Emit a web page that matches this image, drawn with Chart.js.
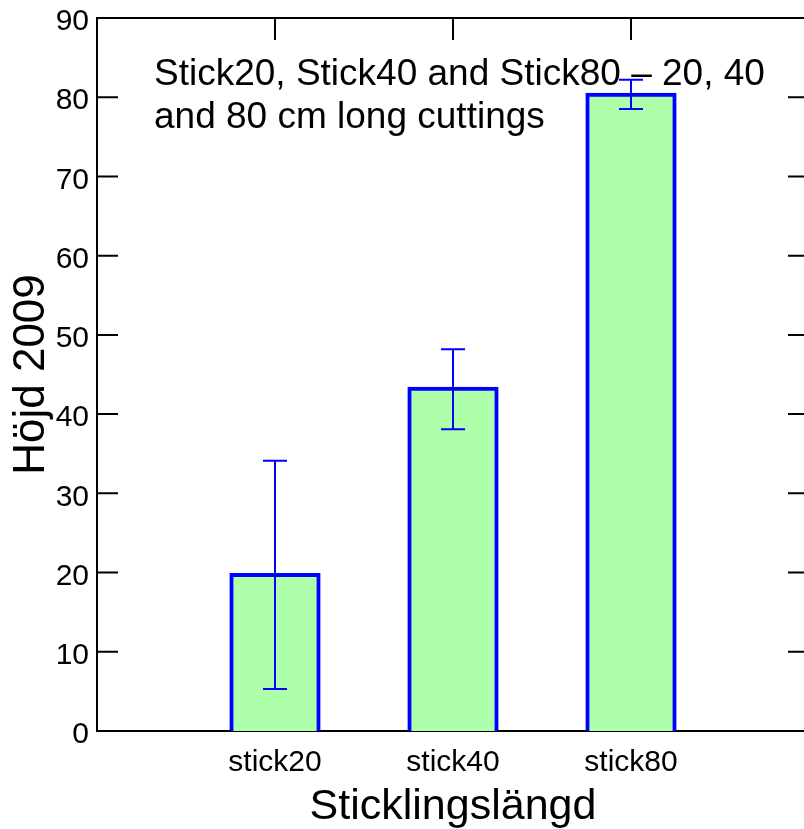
<!DOCTYPE html>
<html><head><meta charset="utf-8">
<script src="https://cdn.jsdelivr.net/npm/chart.js@4.4.0/dist/chart.umd.min.js"></script>
<style>
html,body{margin:0;padding:0;overflow:hidden;background:#fff;width:804px;height:829px}
#c{position:absolute;left:0;top:0;width:812px;height:829px}
</style>
</head><body><canvas id="c" width="812" height="829"></canvas>
<script>
const categories = ['stick20', 'stick40', 'stick80'];
const heights = [19.7, 43.2, 80.3];
const errLow = [5.3, 38.1, 78.5];
const errHigh = [34.1, 48.2, 82.2];
const yTicks = [0, 10, 20, 30, 40, 50, 60, 70, 80, 90];
const xTitle = 'Sticklingslängd';
const yTitle = 'Höjd 2009';
const noteLines = ['Stick20, Stick40 and Stick80 \u2013 20, 40', 'and 80 cm long cuttings'];

const FONT = '"Liberation Sans", Arial, sans-serif';

const framePlugin = {
  id: 'frame',
  beforeDatasetsDraw(chart) {
    const {ctx, chartArea: a, scales: {x, y}} = chart;
    ctx.save();
    ctx.strokeStyle = '#000';
    ctx.lineWidth = 2;
    ctx.beginPath();
    ctx.moveTo(a.left, a.top); ctx.lineTo(a.right, a.top); ctx.lineTo(a.right, a.bottom);
    yTicks.forEach(v => {
      const p = y.getPixelForValue(v);
      ctx.moveTo(a.left, p); ctx.lineTo(a.left + 21, p);
      ctx.moveTo(a.right, p); ctx.lineTo(a.right - 21, p);
    });
    categories.forEach(c => {
      const p = x.getPixelForValue(c);
      ctx.moveTo(p, a.top); ctx.lineTo(p, a.top + 22);
    });
    ctx.stroke();
    ctx.restore();
  },
  afterDatasetsDraw(chart) {
    const {ctx, scales: {x, y}} = chart;
    ctx.save();
    ctx.strokeStyle = '#0000ff';
    ctx.lineWidth = 2;
    ctx.beginPath();
    categories.forEach((c, i) => {
      const px = x.getPixelForValue(c);
      const lo = y.getPixelForValue(errLow[i]);
      const hi = y.getPixelForValue(errHigh[i]);
      ctx.moveTo(px, lo); ctx.lineTo(px, hi);
      ctx.moveTo(px - 12, lo); ctx.lineTo(px + 12, lo);
      ctx.moveTo(px - 12, hi); ctx.lineTo(px + 12, hi);
    });
    ctx.stroke();
    ctx.restore();
  },
  afterDraw(chart) {
    const {ctx, chartArea: a} = chart;
    ctx.save();
    ctx.fillStyle = '#000';
    ctx.font = '37px ' + FONT;
    ctx.textBaseline = 'alphabetic';
    ctx.textAlign = 'left';
    ctx.fillText(noteLines[0], a.left + 57, a.top + 67);
    ctx.fillText(noteLines[1], a.left + 57, a.top + 110);
    ctx.restore();
  }
};

new Chart(document.getElementById('c'), {
  type: 'bar',
  data: {
    labels: ['', ...categories, ''],
    datasets: [{
      data: [null, ...heights, null],
      backgroundColor: 'rgb(173,255,170)',
      borderColor: '#0000ff',
      borderWidth: 4,
      inflateAmount: 2,
      categoryPercentage: 1,
      barPercentage: 0.49
    }]
  },
  options: {
    responsive: false,
    animation: false,
    devicePixelRatio: 1,
    layout: {padding: {top: 18, right: 3, left: 0, bottom: 0}},
    plugins: {legend: {display: false}, tooltip: {enabled: false}},
    scales: {
      x: {
        offset: false,
        grid: {display: false, drawTicks: false},
        border: {display: true, color: '#000', width: 2},
        ticks: {autoSkip: false, maxRotation: 0, padding: 14, color: '#000',
                font: {family: FONT, size: 30}},
        title: {display: true, text: xTitle, color: '#000',
                font: {family: FONT, size: 43, lineHeight: 1}, padding: {top: 0, bottom: 0}},
        afterFit(s) { s.height = 98; s.paddingLeft = 0; s.paddingRight = 0; }
      },
      y: {
        min: 0, max: 90,
        grid: {display: false, drawTicks: false},
        border: {display: true, color: '#000', width: 2},
        ticks: {stepSize: 10, autoSkip: false, padding: 8, color: '#000',
                font: {family: FONT, size: 30, lineHeight: '8px'},
                callback: (v) => ['', String(v)]},
        title: {display: true, text: yTitle, color: '#000',
                font: {family: FONT, size: 44, lineHeight: 1}, padding: {top: 10, bottom: 0}},
        afterFit(s) { s.width = 97; s.paddingTop = 0; s.paddingBottom = 0; }
      }
    }
  },
  plugins: [framePlugin]
});
</script>
</body></html>
